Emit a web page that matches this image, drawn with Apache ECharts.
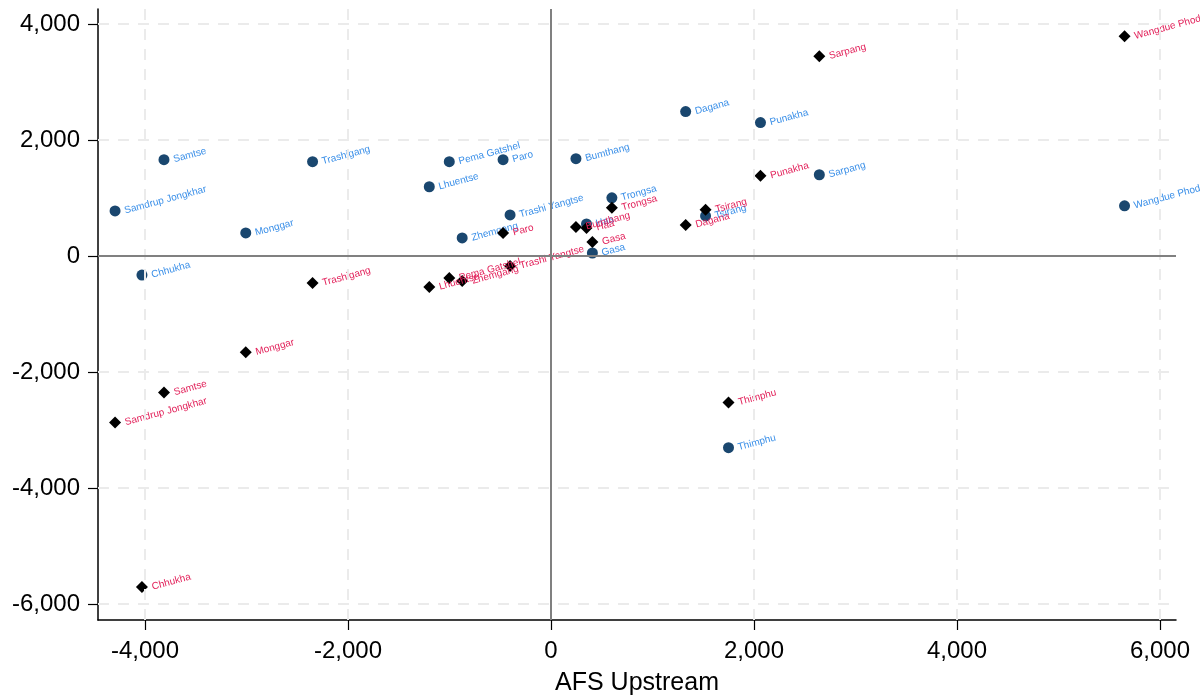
<!DOCTYPE html>
<html>
<head>
<meta charset="UTF-8">
<title>AFS Upstream</title>
<script src="https://cdn.jsdelivr.net/npm/echarts@6/dist/echarts.min.js"></script>
</head>
<body style="margin:0;background:#fff">
<div id="chart" style="width:1200px;height:696px;"></div>
<script type="text/javascript">
// districts and values
var districts = ['Bumthang', 'Chhukha', 'Dagana', 'Gasa', 'Haa', 'Lhuentse', 'Monggar', 'Paro',
	'Pema Gatshel', 'Punakha', 'Samdrup Jongkhar', 'Samtse', 'Sarpang', 'Thimphu', 'Trashigang',
	'Trashi Yangtse', 'Trongsa', 'Tsirang', 'Wangdue Phodrang', 'Zhemgang'];
var afsUpstream = [246, -4030, 1327, 408, 350, -1199, -3007, -472, -1002, 2064, -4295, -3813,
	2644, 1749, -2349, -403, 600, 1523, 5651, -875];
var blueValues = [1678, -329, 2491, 52, 553, 1194, 398, 1661, 1626, 2301, 778, 1661,
	1401, -3304, 1626, 709, 1003, 692, 865, 311];
var blackValues = [502, -5709, 536, 242, 484, -536, -1661, 398, -381, 1384, -2872, -2353,
	3443, -2526, -467, -173, 830, 796, 3789, -432];
var xTicks = [-4000, -2000, 0, 2000, 4000, 6000];
var yTicks = [-6000, -4000, -2000, 0, 2000, 4000];

var font = 'Liberation Sans';
var chart = echarts.init(document.getElementById('chart'));

function pts(ys) {
	return ys.map(function(y, i) {
		return { value: [afsUpstream[i], y], name: districts[i] };
	});
}
function fmt(v) {
	return Number(v).toLocaleString('en-US');
}

var gridLines = [];
xTicks.forEach(function(v) {
	if (v !== 0) gridLines.push({ xAxis: v });
});
yTicks.forEach(function(v) {
	if (v !== 0) gridLines.push({ yAxis: v });
});

chart.setOption({
	animation: false,
	grid: { left: 98, right: 24, top: 9, bottom: 76, containLabel: false, outerBoundsMode: 'none' },
	xAxis: {
		type: 'value',
		min: -4463,
		max: 6158,
		name: 'AFS Upstream',
		nameLocation: 'middle',
		nameGap: 51,
		nameTextStyle: { color: '#000', fontSize: 25, fontFamily: font },
		axisLine: { onZero: false, lineStyle: { color: '#000', width: 1.5 } },
		axisTick: { show: true, length: 10, customValues: xTicks, lineStyle: { color: '#000', width: 1.2 } },
		axisLabel: { customValues: xTicks, color: '#000', fontSize: 24, fontFamily: font, margin: 19, formatter: fmt },
		splitLine: { show: false }
	},
	yAxis: {
		type: 'value',
		min: -6276,
		max: 4259,
		axisLine: { show: true, onZero: false, lineStyle: { color: '#000', width: 1.5 } },
		axisTick: { show: true, length: 10, customValues: yTicks, lineStyle: { color: '#000', width: 1.2 } },
		axisLabel: { customValues: yTicks, color: '#000', fontSize: 24, fontFamily: font, margin: 18, formatter: fmt },
		splitLine: { show: false }
	},
	series: [{
		type: 'scatter',
		data: [],
		z: 1,
		markLine: {
			silent: true,
			symbol: 'none',
			label: { show: false },
			lineStyle: { color: '#ebebeb', width: 2, type: [11, 9], opacity: 1 },
			data: gridLines
		}
	}, {
		type: 'scatter',
		data: [],
		z: 1,
		markLine: {
			silent: true,
			symbol: 'none',
			label: { show: false },
			lineStyle: { color: '#808080', width: 2, type: 'solid', opacity: 1 },
			data: [{ xAxis: 0 }, { yAxis: 0 }]
		}
	}, {
		type: 'scatter',
		z: 3,
		symbol: 'circle',
		symbolSize: 11,
		itemStyle: { color: '#1a476f', opacity: 1 },
		label: {
			show: true,
			position: 'right',
			distance: 4,
			rotate: 15,
			formatter: '{b}',
			color: '#3a8fe8',
			fontSize: 10,
			fontFamily: font
		},
		data: pts(blueValues)
	}, {
		type: 'scatter',
		z: 4,
		symbol: 'diamond',
		symbolSize: [12, 12],
		itemStyle: { color: '#000', opacity: 1 },
		label: {
			show: true,
			position: 'right',
			distance: 4,
			rotate: 15,
			formatter: '{b}',
			color: '#e2215a',
			fontSize: 10,
			fontFamily: font
		},
		data: pts(blackValues)
	}]
});
</script>
</body>
</html>
